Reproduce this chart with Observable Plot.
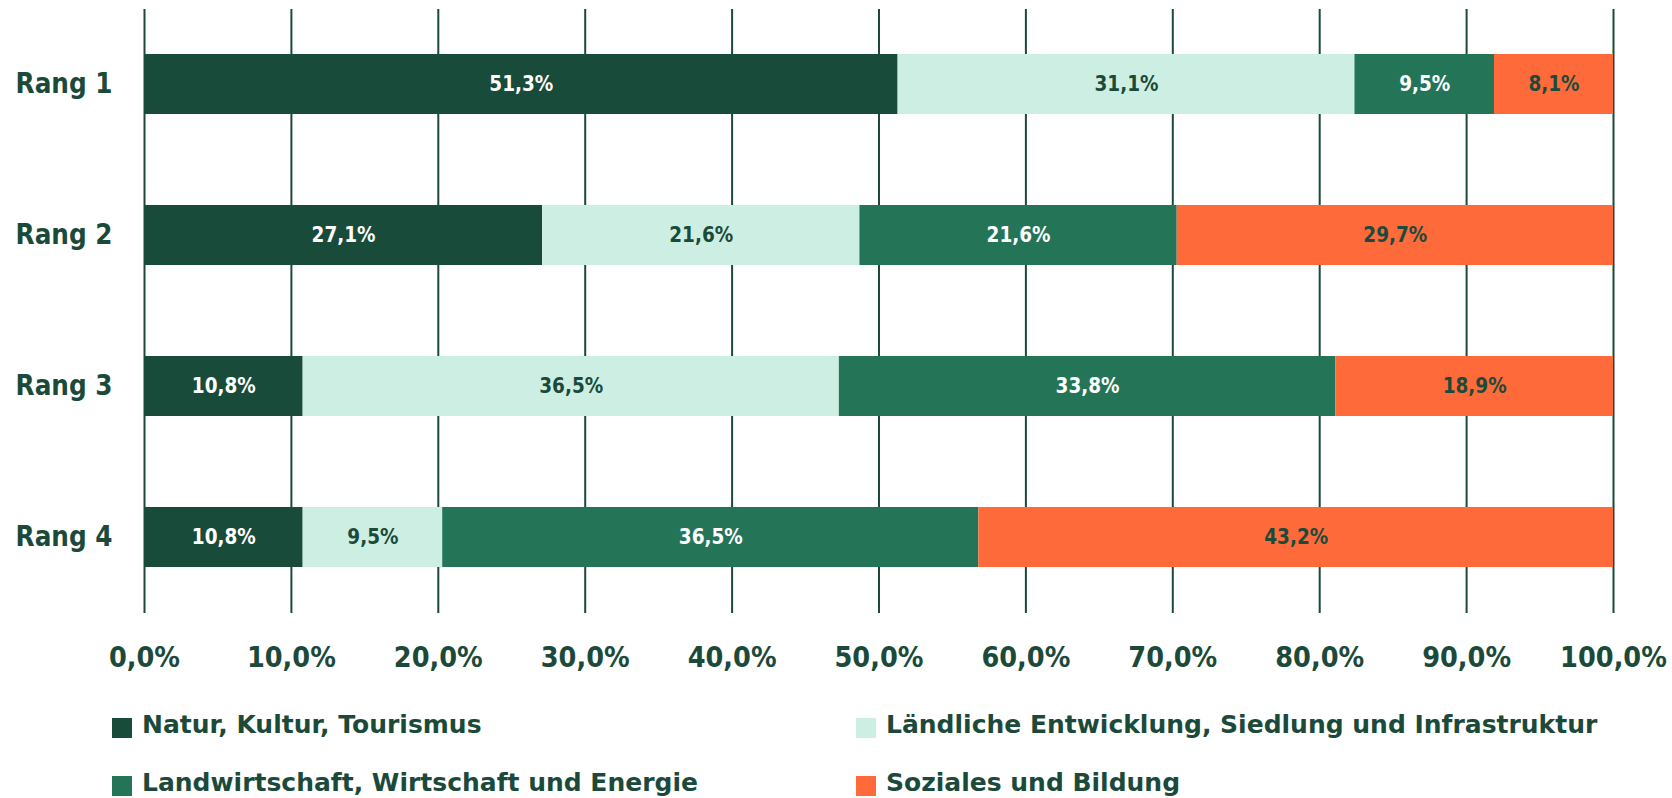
<!DOCTYPE html>
<html>
<head>
<meta charset="utf-8">
<script src="https://cdn.jsdelivr.net/npm/d3@7"></script>
<script src="https://cdn.jsdelivr.net/npm/@observablehq/plot@0.6"></script>
<style>
  html, body { margin: 0; padding: 0; background: #fff; }
  #wrap { position: relative; width: 1672px; height: 798px; overflow: hidden;
    font-family: "DejaVu Sans Condensed", "DejaVu Sans", sans-serif; font-stretch: semi-condensed; }
  #chart svg { display: block; }
  .sw { position: absolute; width: 20px; height: 20px; }
  .lt { position: absolute; font-family: "DejaVu Sans", sans-serif; font-stretch: normal;
    font-size: 25px; line-height: 1; font-weight: bold; color: #1b4a3a; white-space: nowrap; }
</style>
</head>
<body>
<div id="wrap">
  <div id="chart"></div>
  <div id="legend"></div>
</div>
<script>
const ranks = ["Rang 1", "Rang 2", "Rang 3", "Rang 4"];
const categories = [
  "Natur, Kultur, Tourismus",
  "Ländliche Entwicklung, Siedlung und Infrastruktur",
  "Landwirtschaft, Wirtschaft und Energie",
  "Soziales und Bildung"
];
const naturValues = [51.3, 27.1, 10.8, 10.8];
const laendlichValues = [31.1, 21.6, 36.5, 9.5];
const landwirtschaftValues = [9.5, 21.6, 33.8, 36.5];
const sozialesValues = [8.1, 29.7, 18.9, 43.2];
const xTicks = [0, 10, 20, 30, 40, 50, 60, 70, 80, 90, 100];
const colors = ["#194b3a", "#cdefe3", "#247558", "#ff6a3a"];
const labelColors = ["#ffffff", "#1b4a3a", "#ffffff", "#1b4a3a"];
const textColor = "#1b4a3a";

const series = [naturValues, laendlichValues, landwirtschaftValues, sozialesValues];
const data = [];
ranks.forEach((r, i) => {
  categories.forEach((c, j) => {
    data.push({rank: r, category: c, value: series[j][i], ci: j});
  });
});
const fmt = v => v.toFixed(1).replace(".", ",") + "%";

const W = 1672, H = 690;
const plot = Plot.plot({
  width: W,
  height: H,
  marginTop: 9,
  marginBottom: H - 613,
  marginLeft: 144,
  marginRight: 59,
  style: {fontFamily: "'DejaVu Sans Condensed', 'DejaVu Sans', sans-serif", color: textColor, background: "#fff"},
  x: {domain: [0, 100]},
  y: {domain: ranks, paddingInner: 0.6, paddingOuter: 0.3},
  color: {domain: categories, range: colors},
  marks: [
    Plot.ruleX(xTicks, {stroke: textColor, strokeWidth: 2}),
    Plot.barX(data, Plot.stackX({x: "value", y: "rank", fill: "category", order: categories})),
    Plot.text(data, Plot.stackX({
      x: "value", y: "rank", z: "category", order: categories,
      text: d => fmt(d.value),
      fill: d => labelColors[d.ci],
      fontSize: 20.5, fontWeight: "bold"
    })),
    Plot.axisX({ticks: xTicks, tickSize: 0, tickPadding: 33, tickFormat: d => fmt(d),
      fontSize: 28.5, fontWeight: "bold", fill: textColor, label: null}),
    Plot.axisY({tickSize: 0, tickPadding: 32, fontSize: 27.5, fontWeight: "bold", fill: textColor, label: null})
  ]
});
plot.querySelectorAll("text").forEach(t => t.style.fontStretch = "semi-condensed");
document.getElementById("chart").appendChild(plot);

// legend (HTML, below the SVG)
const legendPos = [
  {sx: 112, sy: 718, tx: 142},
  {sx: 856, sy: 718, tx: 886},
  {sx: 112, sy: 776, tx: 142},
  {sx: 856, sy: 776, tx: 886}
];
const legend = document.getElementById("legend");
categories.forEach((c, i) => {
  const p = legendPos[i];
  const sw = document.createElement("div");
  sw.className = "sw";
  sw.style.left = p.sx + "px";
  sw.style.top = p.sy + "px";
  sw.style.background = colors[i];
  legend.appendChild(sw);
  const t = document.createElement("div");
  t.className = "lt";
  t.style.left = p.tx + "px";
  t.style.top = (p.sy - 6.5) + "px";
  t.textContent = c;
  legend.appendChild(t);
});
</script>
</body>
</html>
